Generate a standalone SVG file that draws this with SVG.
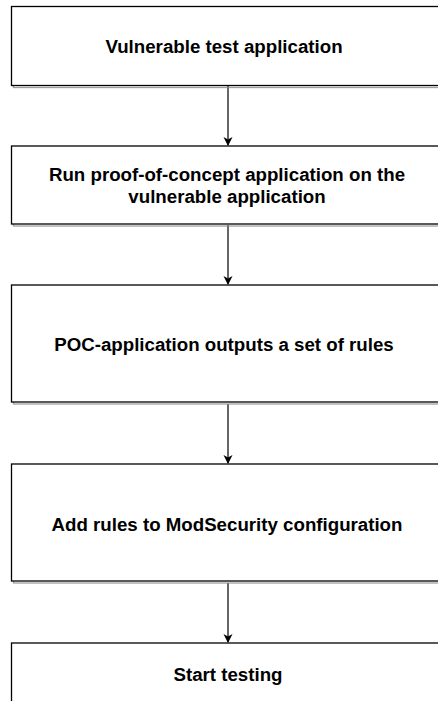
<svg xmlns="http://www.w3.org/2000/svg" width="438" height="701" viewBox="0 0 438 701">
<style>
.box{fill:#ffffff;stroke:#000000;stroke-width:1.3}
.shadow{fill:none;stroke:#888888;stroke-width:1.3;opacity:0.8}
.lbl{font-family:"Liberation Sans",Arial,sans-serif;font-size:18.7px;font-weight:bold;fill:#000000;text-anchor:middle}
.edge{stroke:#000000;stroke-width:1.2;fill:none}
</style>
<defs>
<marker id="arr" markerWidth="10" markerHeight="10" refX="8" refY="4.5" orient="auto" markerUnits="userSpaceOnUse">
<path d="M0,0 L9,4.5 L0,9 L2.5,4.5 Z" fill="#000000"/>
</marker>
</defs>
<rect width="438" height="701" fill="#ffffff"/>
<g id="connectors">
<line class="edge" x1="228" y1="86" x2="228" y2="145" marker-end="url(#arr)"/>
<line class="edge" x1="228" y1="225" x2="228" y2="284" marker-end="url(#arr)"/>
<line class="edge" x1="228" y1="404" x2="228" y2="463" marker-end="url(#arr)"/>
<line class="edge" x1="228" y1="583" x2="228" y2="642" marker-end="url(#arr)"/>
</g>
<g id="n1">
<rect class="shadow" x="13.5" y="8.5" width="432" height="79"/>
<rect class="box" x="11.5" y="6.5" width="432" height="79"/>
<text class="lbl" x="224" y="53">Vulnerable test application</text>
</g>
<g id="n2">
<rect class="shadow" x="13.5" y="148" width="432" height="78"/>
<rect class="box" x="11.5" y="146" width="432" height="78"/>
<text class="lbl" x="227" y="181">Run proof-of-concept application on the</text>
<text class="lbl" x="227" y="203">vulnerable application</text>
</g>
<g id="n3">
<rect class="shadow" x="13.5" y="287" width="432" height="117"/>
<rect class="box" x="11.5" y="285" width="432" height="117"/>
<text class="lbl" x="224" y="351">POC-application outputs a set of rules</text>
</g>
<g id="n4">
<rect class="shadow" x="13.5" y="466" width="432" height="117"/>
<rect class="box" x="11.5" y="464" width="432" height="117"/>
<text class="lbl" x="227" y="531">Add rules to ModSecurity configuration</text>
</g>
<g id="n5">
<rect class="shadow" x="13.5" y="645" width="432" height="80"/>
<rect class="box" x="11.5" y="643" width="432" height="80"/>
<text class="lbl" x="228" y="681">Start testing</text>
</g>
</svg>
